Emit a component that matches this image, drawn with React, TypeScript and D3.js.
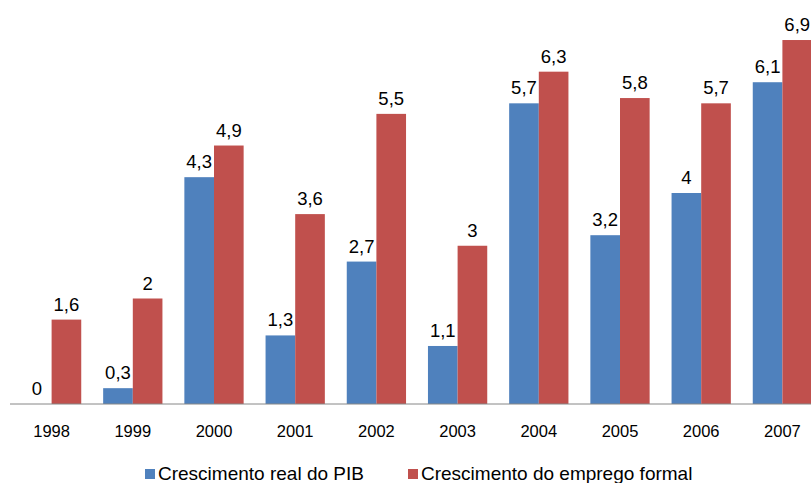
import React from "react";
import * as d3 from "d3";

const years = ["1998", "1999", "2000", "2001", "2002", "2003", "2004", "2005", "2006", "2007"];
const pib = [0, 0.3, 4.3, 1.3, 2.7, 1.1, 5.7, 3.2, 4, 6.1];
const emprego = [1.6, 2, 4.9, 3.6, 5.5, 3, 6.3, 5.8, 5.7, 6.9];
const seriesNames = ["Crescimento real do PIB", "Crescimento do emprego formal"];
const colors = ["#4F81BD", "#C0504D"];

const width = 811;
const height = 483;
const baseY = 404;

export default function App() {
  const x = d3.scaleBand().domain(years).range([11, 823]).paddingInner(0.27).paddingOuter(0.135);
  const sub = d3.scaleBand().domain(["0", "1"]).range([0, x.bandwidth()]);
  const y = d3.scaleLinear().domain([0, 8]).range([baseY, baseY - 8 * 52.75]);
  const fmt = (v: number) => String(v).replace(".", ",");
  const font = "'Liberation Sans', Arial, sans-serif";

  const series = [pib, emprego];

  return (
    <svg width={width} height={height} style={{ position: "absolute", left: 0, top: 0 }}>
      <rect width={width} height={height} fill="#fff" />
      {series.map((vals, s) =>
        vals.map((v, i) => {
          const bx = (x(years[i]) as number) + (sub(String(s)) as number);
          return (
            <g key={`${s}-${i}`}>
              <rect x={bx} y={y(v)} width={sub.bandwidth()} height={baseY - y(v)} fill={colors[s]} />
              <text
                x={bx + sub.bandwidth() / 2}
                y={y(v) - 9}
                textAnchor="middle"
                fontFamily={font}
                fontSize={18.5}
                fill="#000"
              >
                {fmt(v)}
              </text>
            </g>
          );
        })
      )}
      <line x1={10} x2={width} y1={baseY} y2={baseY} stroke="#868686" strokeWidth={1} />
      {years.map((yr) => (
        <text
          key={yr}
          x={(x(yr) as number) + x.bandwidth() / 2}
          y={437}
          textAnchor="middle"
          fontFamily={font}
          fontSize={16.5}
          fill="#000"
        >
          {yr}
        </text>
      ))}
      {seriesNames.map((n, i) => {
        const lx = i === 0 ? 145 : 408;
        return (
          <g key={n}>
            <rect x={lx} y={469} width={10} height={10} fill={colors[i]} />
            <text x={lx + 13} y={480} fontFamily={font} fontSize={19} fill="#000">
              {n}
            </text>
          </g>
        );
      })}
    </svg>
  );
}
